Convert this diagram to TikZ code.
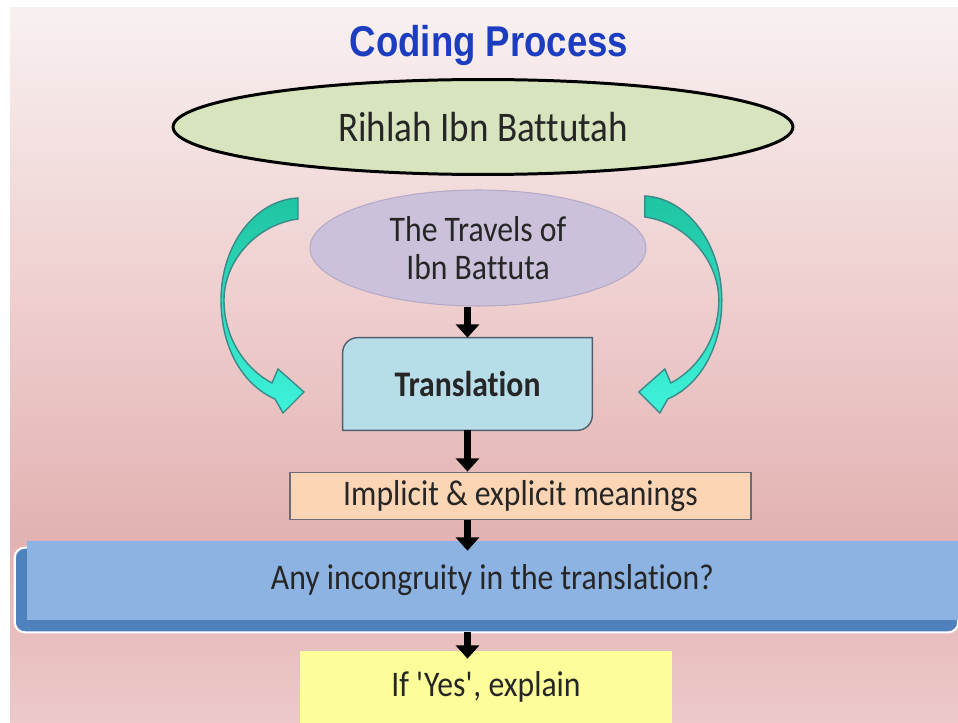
\documentclass[tikz,border=0pt]{standalone}
\usepackage{fontspec}
\setmainfont{Carlito}[FakeStretch=0.88,Ligatures={TeX,NoCommon}]
\newfontfamily\titlefont{Liberation Sans}[FakeStretch=0.85]
\usepackage{xcolor}
\usetikzlibrary{positioning,arrows.meta,shapes.geometric,calc}

\definecolor{bgtop}{HTML}{F8F0F0}
\definecolor{bgupper}{HTML}{EFCFCF}
\definecolor{bgmid}{HTML}{E3B2B2}
\definecolor{bgbot}{HTML}{EDC9C9}
\definecolor{titleblue}{HTML}{1C3DBF}
\definecolor{rihlahgreen}{HTML}{D7E4BD}
\definecolor{travelslilac}{HTML}{CCC1DA}
\definecolor{travelsedge}{HTML}{B5A9C8}
\definecolor{transblue}{HTML}{B7DDE8}
\definecolor{transedge}{HTML}{4F5F70}
\definecolor{implpeach}{HTML}{FCD5B5}
\definecolor{impledge}{HTML}{6B6B78}
\definecolor{barface}{HTML}{8DB3E2}
\definecolor{barback}{HTML}{4F81BD}
\definecolor{yesyellow}{HTML}{FDFD9A}
\definecolor{tealtop}{HTML}{1FC4A2}
\definecolor{tealbot}{HTML}{3EF2DA}
\definecolor{tealedge}{HTML}{3A8A8A}
\definecolor{ink}{HTML}{262626}

\pgfdeclarelayer{background}
\pgfsetlayers{background,main}

\pgfdeclareverticalshading{pagebg}{100bp}{color(0bp)=(bgbot); color(25bp)=(bgbot); color(38bp)=(bgmid); color(55bp)=(bgupper); color(75bp)=(bgtop); color(100bp)=(bgtop)}

\tikzset{
  bodytext/.style={text=ink,font=\fontsize{20.5}{21.5}\selectfont},
  flowarrow/.style={line width=4.5pt,-{Triangle[width=13pt,length=7.5pt]}},
  bendarrow/.style={top color=tealtop,bottom color=tealbot,draw=tealedge,line width=0.8pt}
}

\begin{document}
\begin{tikzpicture}[x=0.02cm,y=-0.02cm]

\useasboundingbox (0,0) rectangle (958,723);

% title and the two names of the book
\node[text=titleblue,font=\titlefont\bfseries\fontsize{24.5}{28}\selectfont] (title) at (489,45) {Coding Process};
\node[ellipse,draw=black,line width=1.7pt,fill=rihlahgreen,minimum width=12.4cm,minimum height=1.9cm,bodytext,font=\fontsize{24}{28}\selectfont] (rihlah) at (483,127) {Rihlah Ibn Battutah};
\node[ellipse,draw=travelsedge,line width=0.6pt,fill=travelslilac,minimum width=6.72cm,minimum height=2.32cm,align=center,bodytext] (travels) at (478,248) {The Travels of\\Ibn Battuta};

% steps
\node[minimum width=4.98cm,minimum height=1.84cm,bodytext,font=\fontsize{20.5}{21.5}\selectfont\bfseries] (trans) at (467.5,384) {Translation};
\node[draw=impledge,line width=1pt,fill=implpeach,minimum width=9.22cm,minimum height=0.94cm,bodytext] (impl) at (520.5,496) {Implicit \& explicit meanings};
\node[fill=barface,minimum width=18.62cm,minimum height=1.58cm,bodytext] (bar) at (492.5,580.5) {Any incongruity in the translation?};
\node[fill=yesyellow,minimum width=7.44cm,minimum height=1.44cm,bodytext] (yes) at (486,687) {If \textquotesingle Yes\textquotesingle, explain};

\begin{pgfonlayer}{background}
\fill[white] (0,0) rectangle (958,723);
\shade[shading=pagebg] (10,8) rectangle (958,723);
\draw[fill=transblue,draw=transedge,line width=0.8pt] ([yshift=-0.3cm]trans.north west) arc[start angle=180,end angle=90,radius=0.3cm] -- (trans.north east) -- ([yshift=0.3cm]trans.south east) arc[start angle=0,end angle=-90,radius=0.3cm] -- (trans.south west) -- cycle;
\draw[fill=barback,draw=white,line width=1.2pt,rounded corners=0.2cm] ([xshift=-0.24cm,yshift=-0.14cm]bar.north west) rectangle ([yshift=-0.24cm]bar.south east);
\end{pgfonlayer}

% arrows down the middle
\draw[flowarrow] (trans.north |- travels.south) -- (trans.north);
\draw[flowarrow] (trans.south) -- (trans.south |- impl.north);
\draw[flowarrow] (trans.south |- impl.south) -- ($(trans.south |- bar.north)+(0,10)$);
\draw[flowarrow] ($(trans.south |- bar.south)+(0,12)$) -- ($(trans.south |- yes.north)+(0,8)$);

% curved arrows on both sides
\shadedraw[bendarrow] (298,198) .. controls (255,200) and (221,245) .. (221,300)
  .. controls (221,348) and (243,385) .. (275,399) -- (283,413) -- (304,392) -- (278,369) -- (272,383)
  .. controls (247,370) and (224,340) .. (224,300)
  .. controls (224,262) and (255,225) .. (298,219) -- cycle;
\begin{scope}[xshift=18.86cm,xscale=-1]
\shadedraw[bendarrow] (298,196) .. controls (255,198) and (221,245) .. (221,300)
  .. controls (221,348) and (243,385) .. (275,399) -- (283,413) -- (304,392) -- (278,369) -- (272,383)
  .. controls (247,370) and (224,340) .. (224,300)
  .. controls (224,262) and (255,223) .. (298,217) -- cycle;
\end{scope}

\end{tikzpicture}
\end{document}
